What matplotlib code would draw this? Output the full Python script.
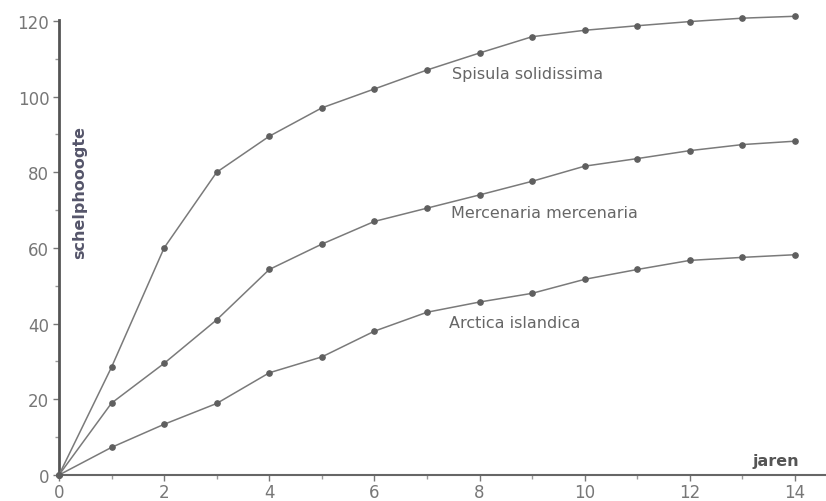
import numpy as np
import matplotlib.pyplot as plt
from matplotlib.ticker import MultipleLocator

# jaren (years) and schelphoogte per species
years = np.arange(0, 15)
spisula = [0, 28.5, 60, 80, 89.5, 97, 102, 107, 111.5, 115.8, 117.5, 118.7, 119.8, 120.7, 121.2]
mercenaria = [0, 19, 29.5, 41, 54.3, 61, 67, 70.5, 74, 77.6, 81.6, 83.6, 85.7, 87.3, 88.2]
arctica = [0, 7.3, 13.4, 18.9, 27, 31.2, 38, 43, 45.7, 48, 51.7, 54.3, 56.7, 57.5, 58.2]

series = [spisula, mercenaria, arctica]
names = ["Spisula solidissima", "Mercenaria mercenaria", "Arctica islandica"]
label_pos = [(7.48, 106), (7.46, 69.3), (7.42, 40.4)]

fig = plt.figure(figsize=(8.26, 5.02), dpi=100)
ax = fig.add_axes([0.0714, 0.0518, 0.9286, 0.907])

for vals in series:
    ax.plot(years, vals, color='#7a7a7a', lw=1.1, marker='o', ms=3.8,
            mfc='#5f5f5f', mec='#5f5f5f', zorder=3, clip_on=False)

for name, (x, y) in zip(names, label_pos):
    ax.text(x, y, name, fontsize=11.5, color='#666666', va='center', ha='left')

# axis titles drawn inside the plot area
ax.text(0.40, 75, "schelphooogte", rotation=90, fontsize=11.5, fontweight='bold',
        color='#55556a', ha='center', va='center')
ax.text(14.08, 3.9, "jaren", fontsize=11.5, fontweight='bold', color='#555555',
        ha='right', va='center')

ax.set_xlim(0, 14.59)
ax.set_ylim(0, 120.3)
ax.set_xticks(np.arange(0, 15, 2))
ax.xaxis.set_minor_locator(MultipleLocator(1))
ax.yaxis.set_major_locator(MultipleLocator(20))
ax.yaxis.set_minor_locator(MultipleLocator(10))

for s in ['top', 'right']:
    ax.spines[s].set_visible(False)
ax.spines['left'].set_color('#555555')
ax.spines['left'].set_linewidth(2)
ax.spines['bottom'].set_color('#666666')
ax.spines['bottom'].set_linewidth(1.5)

ax.tick_params(axis='both', which='major', colors='#777777', labelsize=12,
               length=4, width=1)
ax.tick_params(axis='both', which='minor', colors='#999999', length=3, width=1)
ax.tick_params(axis='x', pad=2)
ax.tick_params(axis='y', pad=3)

fig.savefig('out.png', dpi=100)
